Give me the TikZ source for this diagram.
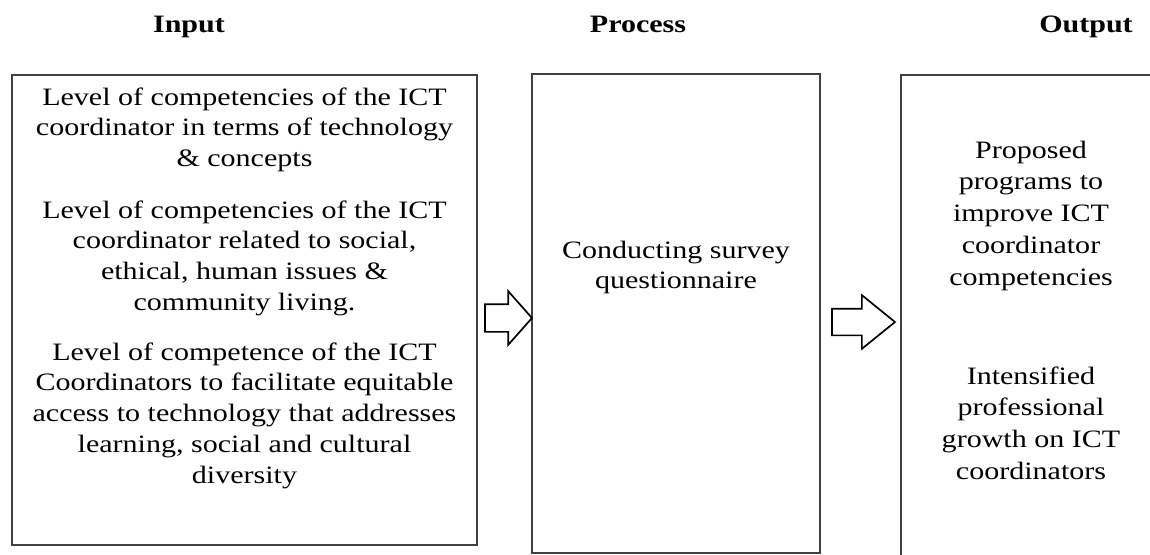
\documentclass[tikz,border=0pt]{standalone}
\usepackage{fontspec}
\setmainfont{Liberation Serif}
\usepackage{graphicx}
\usetikzlibrary{shapes.arrows}

% text block, a little wider than high, first baseline on top
\newcommand{\widetext}[2][22pt]{\scalebox{1.2}[1]{\fontsize{17.8}{#1}\selectfont
    \begin{tabular}[t]{@{}c@{}}#2\end{tabular}}}

\begin{document}
\begin{tikzpicture}[
    x=0.025cm, y=-0.025cm,
    panel/.style={draw=black!75, line width=0.9pt, inner sep=0pt, outer sep=0pt},
    txt/.style={inner sep=0pt, anchor=base},
    blockarrow/.style={single arrow, draw=black, line width=1.2pt, fill=white, inner xsep=0pt, outer sep=0pt,
        anchor=tip}
]
    \clip (0,0) rectangle (1150,554);
    \fill[white] (0,0) rectangle (1150,554);

    % Headings
    \node[txt] (tin) at (189,32) {\widetext{\bfseries Input}};
    \node[txt] (tproc) at (638,32) {\widetext{\bfseries Process}};
    \node[txt] (tout) at (1086,32) {\widetext{\bfseries Output}};

    % Boxes
    \node[panel, minimum width=11.625cm, minimum height=11.75cm] (input) at (244.5,310) {};
    \node[panel, minimum width=7.2cm, minimum height=11.975cm] (process) at (676,313.5) {};
    \node[panel, minimum width=7.25cm, minimum height=13cm] (output) at (1046,335) {};

    % Input
    \node[txt] (lvl1) at (244.5,105) {\widetext{Level of competencies of the ICT\\coordinator in terms of technology\\\& concepts}};
    \node[txt] (lvl2) at (244.5,218) {\widetext{Level of competencies of the ICT\\coordinator related to social,\\ethical, human issues \&\\community living.}};
    \node[txt] (lvl3) at (244.5,360) {\widetext{Level of competence of the ICT\\Coordinators to facilitate equitable\\access to technology that addresses\\learning, social and cultural\\diversity}};

    % Process
    \node[txt] (survey) at (676,258) {\widetext{Conducting survey\\questionnaire}};

    % Output
    \node[txt] (prog) at (1031,158) {\widetext[22.7pt]{Proposed\\programs to\\improve ICT\\coordinator\\competencies}};
    \node[txt] (growth) at (1031,384) {\widetext[22.7pt]{Intensified\\professional\\growth on ICT\\coordinators}};

    % Arrows
    \node[blockarrow, inner ysep=0.325cm, single arrow head extend=0.325cm,
        minimum height=1.175cm, single arrow tip angle=97] (arr1) at (process.west |- 0,318) {};
    \node[blockarrow, inner ysep=0.3125cm, single arrow head extend=0.3375cm,
        minimum height=1.575cm, single arrow tip angle=78] (arr2) at (895,322) {};
\end{tikzpicture}
\end{document}
